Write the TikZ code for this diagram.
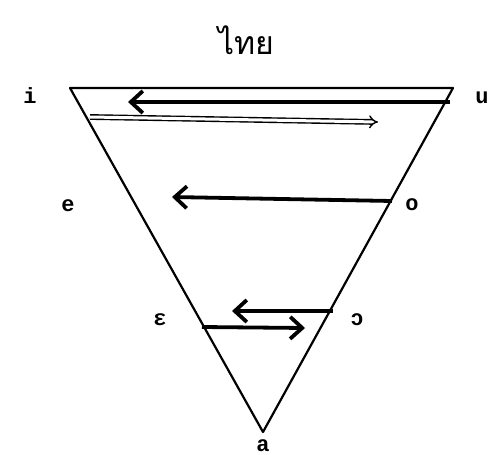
\documentclass[tikz,border=0pt]{standalone}
\usepackage{fontspec}
\setmonofont{Liberation Mono}
\newfontfamily\thaifont[Script=Thai]{Loma}
\usetikzlibrary{arrows.meta}
\begin{document}
\begin{tikzpicture}[x=1pt,y=-1pt,
  lbl/.style={font=\ttfamily\bfseries\fontsize{22}{22}\selectfont, inner sep=0pt, anchor=base},
  edge/.style={line width=2.2pt},
  thickarrow/.style={line width=3.8pt, -{Straight Barb[length=12pt,width=22pt,line width=3.8pt]}},
  hollowarrow/.style={double, line width=1.4pt, double distance=3pt, -{Implies[length=11pt,width=19pt]}}]
\useasboundingbox (0,0) rectangle (490,455);
% triangle vertices
\coordinate (TL) at (70,88);
\coordinate (TR) at (453,88);
\coordinate (B) at (263,432);
\draw[edge, line join=round] (TL) -- (TR) -- (B) -- cycle;
% title
\node[font=\thaifont\fontsize{32}{32}\selectfont] (title) at (246,40) {ไทย};
% labels
\node[lbl] (li) at (30,103) {i};
\node[lbl] (lu) at (482,103) {u};
\node[lbl] (le) at (68,211) {e};
\node[lbl] (lo) at (412,210) {o};
\node[lbl] (leps) at (160,325) {ɛ};
\node[lbl] (lopen) at (357,325) {ɔ};
\node[lbl] (la) at (263,451) {a};
% arrows
\coordinate (u1) at (450,102);
\coordinate (u2) at (128,102);
\draw[thickarrow] (u1) -- (u2);
\coordinate (h1) at (90,117);
\coordinate (h2) at (378,122);
\draw[hollowarrow] (h1) -- (h2);
\coordinate (o1) at (392,201);
\coordinate (o2) at (172,197);
\draw[thickarrow] (o1) -- (o2);
\coordinate (c1) at (333,311);
\coordinate (c2) at (232,311);
\draw[thickarrow] (c1) -- (c2);
\coordinate (e1) at (202,327);
\coordinate (e2) at (305,328);
\draw[thickarrow] (e1) -- (e2);
\end{tikzpicture}
\end{document}
